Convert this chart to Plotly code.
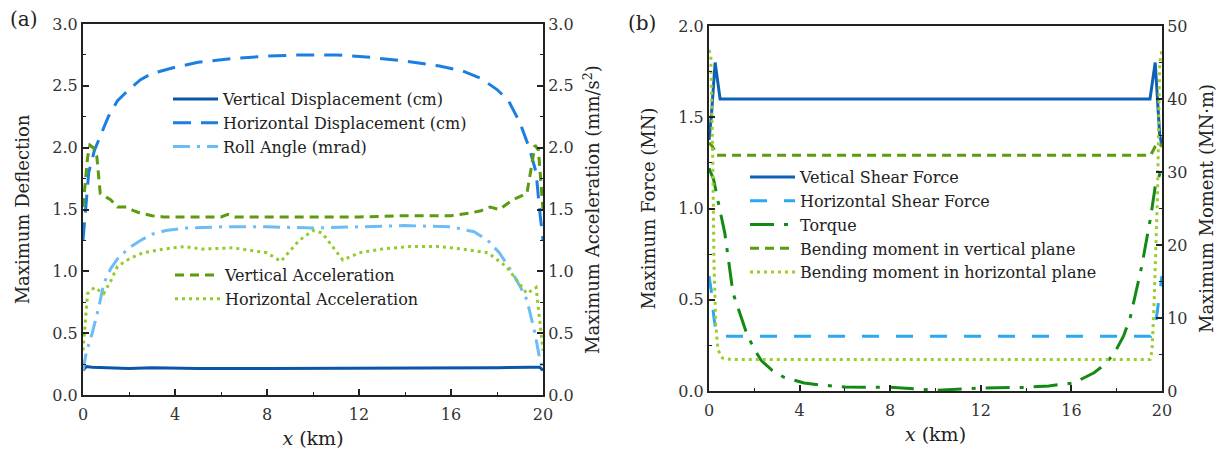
import plotly.graph_objects as go

# ---------------- Panel (a) data ----------------
vd_x = [0, 0.15, 0.4, 1, 2, 3, 5, 8, 12, 16, 18, 19.5, 19.85, 20]
vd_y = [0.20, 0.23, 0.225, 0.22, 0.215, 0.22, 0.215, 0.215, 0.215, 0.215, 0.22, 0.225, 0.225, 0.20]

hd_x = [0, 0.1, 0.25, 0.5, 0.8, 1.1, 1.5, 2, 2.5, 3, 4, 5, 6.5, 8, 9.5, 11, 12.5, 14, 15.5, 16.5, 17.3, 18, 18.5, 19, 19.4, 19.7, 19.85, 20]
hd_y = [1.25, 1.5, 1.8, 1.98, 2.12, 2.25, 2.38, 2.47, 2.55, 2.6, 2.65, 2.69, 2.72, 2.74, 2.75, 2.75, 2.73, 2.7, 2.66, 2.62, 2.56, 2.47, 2.38, 2.2, 2.0, 1.8, 1.5, 1.25]

ra_x = [0, 0.15, 0.4, 0.7, 0.9, 1.2, 1.5, 2, 2.5, 3, 3.6, 4.5, 6, 8, 10, 12, 14, 16, 17, 17.6, 18.1, 18.5, 19, 19.3, 19.65, 19.85, 20]
ra_y = [0.2, 0.35, 0.5, 0.72, 0.9, 1.02, 1.1, 1.19, 1.25, 1.3, 1.33, 1.35, 1.36, 1.36, 1.35, 1.36, 1.37, 1.36, 1.32, 1.25, 1.15, 1.04, 0.88, 0.77, 0.5, 0.3, 0.2]

va_x = [0, 0.1, 0.2, 0.3, 0.45, 0.6, 0.75, 1.0, 1.2, 1.5, 1.9, 2.2, 2.5, 3.0, 3.5, 5, 6, 6.3, 6.6, 8, 10, 12, 14, 16, 16.8, 17.3, 17.7, 18.1, 18.7, 19.3, 19.5, 19.65, 19.8, 19.9, 20]
va_y = [1.52, 1.75, 1.92, 2.02, 2.0, 1.93, 1.63, 1.6, 1.58, 1.52, 1.52, 1.49, 1.47, 1.45, 1.44, 1.44, 1.44, 1.46, 1.44, 1.44, 1.44, 1.44, 1.45, 1.45, 1.47, 1.49, 1.52, 1.50, 1.58, 1.63, 1.85, 2.02, 1.98, 1.75, 1.5]

ha_x = [0, 0.08, 0.2, 0.5, 0.9, 1.2, 1.5, 2, 2.6, 3.5, 4.4, 5.2, 6.5, 8, 8.6, 9.4, 10.0, 10.4, 11.3, 12, 13, 14.2, 15.5, 16.5, 17.6, 18.4, 19.3, 19.7, 19.9, 20]
ha_y = [0.36, 0.55, 0.82, 0.87, 0.82, 0.92, 1.04, 1.1, 1.15, 1.18, 1.2, 1.18, 1.19, 1.15, 1.08, 1.25, 1.33, 1.31, 1.09, 1.15, 1.18, 1.2, 1.2, 1.18, 1.15, 1.04, 0.82, 0.87, 0.5, 0.36]

# ---------------- Panel (b) data ----------------
vs_x = [0, 0.1, 0.27, 0.49, 1, 19.47, 19.7, 19.9, 20]
vs_y = [1.375, 1.5, 1.8, 1.6, 1.6, 1.6, 1.8, 1.4, 1.35]

hs_x = [0, 0.1, 0.2, 0.3, 0.5, 1, 19, 19.5, 19.7, 19.85, 20]
hs_y = [0.63, 0.55, 0.42, 0.33, 0.3, 0.3, 0.3, 0.3, 0.35, 0.5, 0.63]

to_x = [0, 0.2, 0.4, 0.7, 1.06, 1.4, 1.66, 2.0, 2.3, 2.8, 3.3, 4.2, 5, 6, 8, 10, 12, 14, 15, 16.1, 17.0, 17.5, 17.9, 18.3, 18.6, 19.1, 19.5, 19.7, 20]
to_y = [30.5, 29, 26, 21.6, 13.4, 10.2, 7.9, 5.7, 4.2, 2.8, 1.9, 1.1, 0.8, 0.55, 0.5, 0.1, 0.4, 0.5, 0.7, 1.1, 2.5, 3.7, 5.2, 7.5, 10.1, 17, 23.8, 28, 30.5]

bv_x = [0, 0.15, 0.35, 1, 19.5, 19.7, 19.85, 20]
bv_y = [34, 33.5, 32.3, 32.3, 32.3, 33.5, 34, 33.5]

bh_x = [0, 0.08, 0.17, 0.22, 0.3, 0.4, 0.6, 1, 19.47, 19.56, 19.65, 19.8, 19.9, 20]
bh_y = [46.7, 46, 31, 17.5, 9, 5.6, 4.5, 4.3, 4.3, 5.5, 12, 26.5, 45, 46.7]

x_ticks = [0, 4, 8, 12, 16, 20]

FONT = "DejaVu Serif"
AX = "#222222"

fig = go.Figure()

def add(x, y, name, color, dash, width, xa, ya, leg):
    fig.add_trace(go.Scatter(x=x, y=y, name=name, mode="lines",
                             line=dict(color=color, dash=dash, width=width),
                             xaxis=xa, yaxis=ya, legend=leg))

# Panel (a)
add(vd_x, vd_y, "Vertical Displacement (cm)", "#0b56a8", "solid", 3, "x", "y", "legend")
add(hd_x, hd_y, "Horizontal Displacement (cm)", "#1a7fe0", "18px,10px", 3, "x", "y", "legend")
add(ra_x, ra_y, "Roll Angle (mrad)", "#6cbdf5", "17px,7px,3px,7px", 3, "x", "y", "legend")
add(va_x, va_y, "Vertical Acceleration", "#5c9a0e", "9px,6px", 3, "x", "y2", "legend2")
add(ha_x, ha_y, "Horizontal Acceleration", "#92cc2a", "3px,4px", 3, "x", "y2", "legend2")

# Panel (b)
add(vs_x, vs_y, "Vetical Shear Force", "#1060b8", "solid", 3, "x2", "y3", "legend3")
add(hs_x, hs_y, "Horizontal Shear Force", "#2aa8f2", "17px,17px", 3, "x2", "y3", "legend3")
add(to_x, to_y, "Torque", "#138a13", "24px,10px,4px,10px", 3, "x2", "y4", "legend3")
add(bv_x, bv_y, "Bending moment in vertical plane", "#5c9a0e", "9px,6px", 3, "x2", "y4", "legend3")
add(bh_x, bh_y, "Bending moment in horizontal plane", "#9ccd2e", "3px,4px", 3, "x2", "y4", "legend3")

tickfont = dict(family=FONT, size=16, color="#333333")
titlefont = dict(family=FONT, size=18, color="#222222")

def xaxis(dom, anchor):
    return dict(domain=dom, anchor=anchor, range=[0, 20], tickvals=x_ticks,
                ticks="inside", ticklen=6, tickwidth=1.5, tickcolor=AX,
                minor=dict(dtick=2, ticks="inside", ticklen=3, tickcolor=AX, tickwidth=1.2),
                showline=True, linecolor=AX, linewidth=2, mirror=True,
                showgrid=False, zeroline=False, tickfont=tickfont, automargin=False,
                ticklabelstandoff=4,
                title=dict(text="<i>x</i> (km)", font=dict(family=FONT, size=19, color="#222"), standoff=8))

def yaxis(dom, anchor, rng, dtick, mdtick, fmt, title, side="left", overlaying=None, standoff=18):
    d = dict(domain=dom, anchor=anchor, range=rng, dtick=dtick, tick0=0, tickformat=fmt,
             ticks="inside", ticklen=6, tickwidth=1.5, tickcolor=AX,
             minor=dict(dtick=mdtick, ticks="inside", ticklen=3, tickcolor=AX, tickwidth=1.2),
             showline=True, linecolor=AX, linewidth=2, automargin=False,
             showgrid=False, zeroline=False, tickfont=tickfont, side=side,
             title=dict(text=title, font=titlefont, standoff=standoff))
    if overlaying:
        d["overlaying"] = overlaying
    return d

ya_dom = [1 - 395 / 451, 1 - 24 / 451]
yb_dom = [1 - 391 / 451, 1 - 26 / 451]

legfont = dict(family=FONT, size=16, color="#222222")
leg_common = dict(bgcolor="rgba(0,0,0,0)", font=legfont, itemwidth=45,
                  xanchor="left", yanchor="top", tracegroupgap=0)

fig.update_layout(
    width=1223, height=451, autosize=False,
    margin=dict(l=0, r=0, t=0, b=0, autoexpand=False),
    paper_bgcolor="white", plot_bgcolor="white",
    showlegend=True,
    xaxis=xaxis([83 / 1223, 543 / 1223], "y"),
    yaxis=yaxis(ya_dom, "x", [0, 3], 0.5, 0.25, ".1f", "Maximum Deflection"),
    yaxis2=yaxis(ya_dom, "x", [0, 3], 0.5, 0.25, ".1f",
                 "Maximum Acceleration (mm/s<sup>2</sup>)", side="right", overlaying="y", standoff=14),
    xaxis2=xaxis([709 / 1223, 1162 / 1223], "y3"),
    yaxis3=yaxis(yb_dom, "x2", [0, 2], 0.5, 0.25, ".1f", "Maximum Force (MN)"),
    yaxis4=yaxis(yb_dom, "x2", [0, 50], 10, 5, "d", "Maximum Moment (MN·m)",
                 side="right", overlaying="y3", standoff=14),
    legend=dict(x=168 / 1223, y=1 - 82 / 451, **leg_common),
    legend2=dict(x=170 / 1223, y=1 - 258 / 451, **leg_common),
    legend3=dict(x=745 / 1223, y=1 - 160 / 451, **leg_common),
    annotations=[
        dict(text="(a)", x=24 / 1223, y=1 - 19 / 451, xref="paper", yref="paper",
             xanchor="center", yanchor="middle",
             showarrow=False, font=dict(family=FONT, size=20, color="#222")),
        dict(text="(b)", x=642 / 1223, y=1 - 23 / 451, xref="paper", yref="paper",
             xanchor="center", yanchor="middle",
             showarrow=False, font=dict(family=FONT, size=20, color="#222")),
    ],
)

fig.write_html("out.html", config={"displayModeBar": False},
               post_script="document.body.style.margin='0';")
